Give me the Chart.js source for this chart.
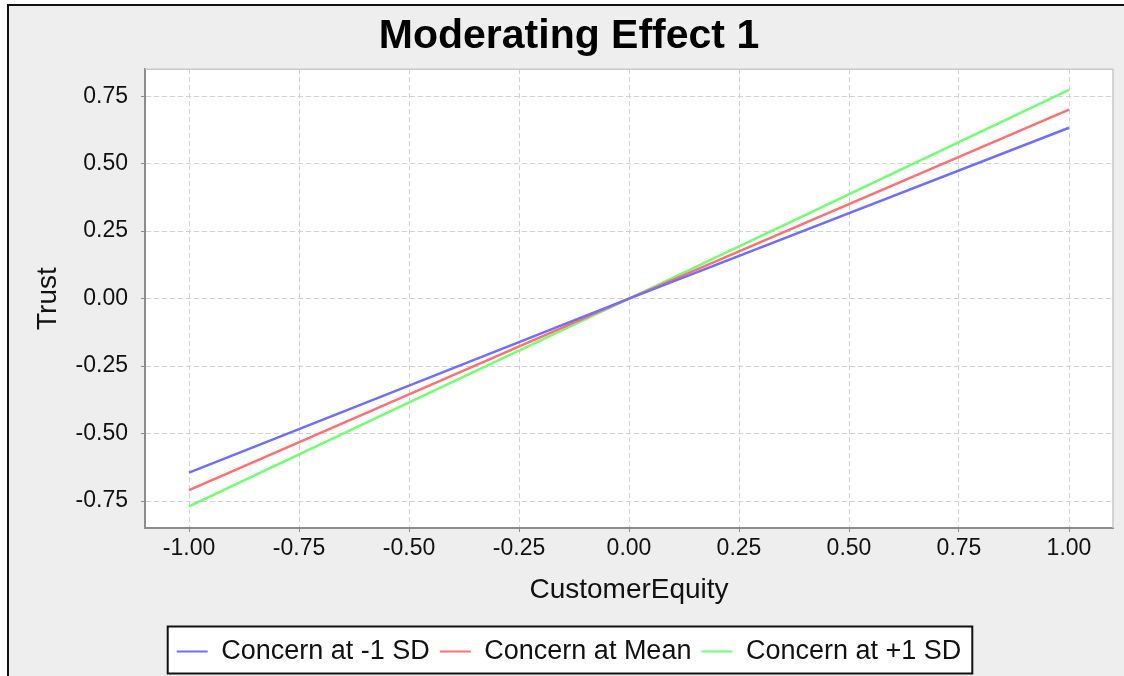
<!DOCTYPE html>
<html>
<head>
<meta charset="utf-8">
<title>Moderating Effect 1</title>
<script src="https://cdn.jsdelivr.net/npm/chart.js@4.4.0/dist/chart.umd.min.js"></script>
<style>
    html, body { margin: 0; padding: 0; background: #ffffff; overflow: hidden; }
    #wrap { position: relative; width: 1124px; height: 676px; }
    #panel {
        position: absolute; left: 7px; top: 4px; width: 1140px; height: 700px;
        background: #eeeeee; border-top: 2px solid #111; border-left: 2px solid #111;
    }
    canvas { position: absolute; left: 0; top: 0; }
</style>
</head>
<body>
<div id="wrap">
    <div id="panel"></div>
    <canvas id="effectChart" width="1124" height="676"></canvas>
</div>
<script>
// Values
const xValues = [-1, 0, 1]; // CustomerEquity
const concernLow = [-0.645, 0, 0.633];  // Concern at -1 SD
const concernMean = [-0.71, 0, 0.70];   // Concern at Mean
const concernHigh = [-0.77, 0, 0.773];  // Concern at +1 SD

const xTicks = [-1, -0.75, -0.5, -0.25, 0, 0.25, 0.5, 0.75, 1];
const yTicks = [-0.75, -0.5, -0.25, 0, 0.25, 0.5, 0.75];

const FONT = '"Liberation Sans", Arial, sans-serif';
const LINE_WIDTH = 2.5;

function points(ys) {
    return xValues.map((x, i) => ({ x: x, y: ys[i] }));
}

// White plot area, light outline on top/right, boxed legend
const plotDecor = {
    id: 'plotDecor',
    beforeDraw(chart) {
        const { ctx, chartArea: a } = chart;
        ctx.save();
        ctx.fillStyle = '#ffffff';
        ctx.fillRect(a.left, a.top, a.right - a.left, a.bottom - a.top);
        ctx.restore();
    },
    afterDraw(chart) {
        const { ctx, chartArea: a, legend } = chart;
        ctx.save();
        ctx.strokeStyle = '#c8c8c8';
        ctx.lineWidth = 1.5;
        ctx.beginPath();
        ctx.moveTo(a.left, a.top);
        ctx.lineTo(a.right, a.top);
        ctx.lineTo(a.right, a.bottom);
        ctx.stroke();

        const boxes = legend && legend.legendHitBoxes;
        if (boxes && boxes.length) {
            const first = boxes[0];
            const last = boxes[boxes.length - 1];
            const cy = first.top + first.height / 2;
            const x0 = first.left - 9;
            const x1 = last.left + last.width + 11;
            const y0 = cy - 25;
            const y1 = cy + 22;
            ctx.globalCompositeOperation = 'destination-over';
            ctx.fillStyle = '#ffffff';
            ctx.fillRect(x0, y0, x1 - x0, y1 - y0);
            ctx.globalCompositeOperation = 'source-over';
            ctx.strokeStyle = '#111111';
            ctx.lineWidth = 2;
            ctx.strokeRect(x0, y0, x1 - x0, y1 - y0);
        }
        ctx.restore();
    }
};

const ctx = document.getElementById('effectChart').getContext('2d');

const effectChart = new Chart(ctx, {
    type: 'line',
    data: {
        datasets: [
            { label: 'Concern at -1 SD', data: points(concernLow), borderColor: '#6f6fff', backgroundColor: '#6f6fff', borderWidth: LINE_WIDTH },
            { label: 'Concern at Mean', data: points(concernMean), borderColor: '#ff6f6f', backgroundColor: '#ff6f6f', borderWidth: LINE_WIDTH },
            { label: 'Concern at +1 SD', data: points(concernHigh), borderColor: '#6fff6f', backgroundColor: '#6fff6f', borderWidth: LINE_WIDTH }
        ]
    },
    options: {
        responsive: false,
        animation: false,
        events: [],
        elements: {
            line: { tension: 0 },
            point: { radius: 0 }
        },
        layout: { padding: { left: 25, right: 11, top: 6, bottom: 1 } },
        scales: {
            x: {
                type: 'linear',
                min: -1.1,
                max: 1.1,
                afterBuildTicks: s => { s.ticks = xTicks.map(v => ({ value: v })); },
                afterFit: s => { s.height = 100; },
                ticks: {
                    callback: v => v.toFixed(2),
                    font: { family: FONT, size: 23 },
                    color: '#111',
                    padding: 3,
                    maxRotation: 0,
                    autoSkip: false
                },
                grid: { color: '#d2d2d2', lineWidth: 1, tickColor: '#8c8c8c', tickLength: 4, tickWidth: 1 },
                border: { color: '#8c8c8c', width: 2, dash: [5, 3] },
                title: {
                    display: true,
                    text: 'CustomerEquity',
                    font: { family: FONT, size: 28 },
                    color: '#111',
                    padding: { top: 0, bottom: 21 }
                }
            },
            y: {
                type: 'linear',
                min: -0.85,
                max: 0.85,
                afterBuildTicks: s => { s.ticks = yTicks.map(v => ({ value: v })); },
                afterFit: s => { s.width = 120; },
                ticks: {
                    callback: v => v.toFixed(2),
                    font: { family: FONT, size: 23 },
                    color: '#111',
                    padding: 13
                },
                grid: { color: '#d2d2d2', lineWidth: 1, tickColor: '#8c8c8c', tickLength: 4, tickWidth: 1 },
                border: { color: '#8c8c8c', width: 2, dash: [5, 3] },
                title: {
                    display: true,
                    text: 'Trust',
                    font: { family: FONT, size: 28 },
                    color: '#111',
                    padding: { top: 6, bottom: 0 }
                }
            }
        },
        plugins: {
            title: {
                display: true,
                text: 'Moderating Effect 1',
                font: { family: FONT, size: 41, weight: 'bold' },
                color: '#000',
                padding: { top: 6, bottom: 8 }
            },
            legend: {
                position: 'bottom',
                labels: {
                    usePointStyle: true,
                    pointStyle: 'line',
                    pointStyleWidth: 31,
                    padding: 10,
                    color: '#111',
                    font: { family: FONT, size: 27 },
                    generateLabels(chart) {
                        return chart.data.datasets.map((ds, i) => ({
                            text: ds.label,
                            datasetIndex: i,
                            fillStyle: ds.borderColor,
                            strokeStyle: ds.borderColor,
                            fontColor: '#111',
                            lineWidth: 2,
                            pointStyle: 'line',
                            hidden: false
                        }));
                    }
                }
            },
            tooltip: { enabled: false }
        }
    },
    plugins: [plotDecor]
});
</script>
</body>
</html>
